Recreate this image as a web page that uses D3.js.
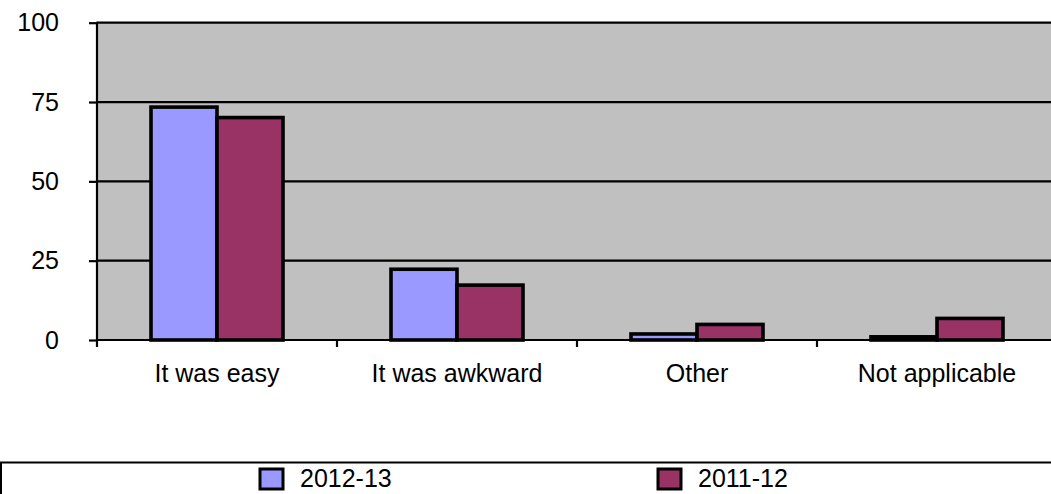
<!DOCTYPE html>
<html>
<head>
<meta charset="utf-8">
<script src="https://cdn.jsdelivr.net/npm/d3@7"></script>
<style>
  html, body { margin: 0; padding: 0; background: #fff; overflow: hidden; }
  svg { display: block; font-family: "Liberation Sans", Arial, Helvetica, sans-serif; }
</style>
</head>
<body>
<svg id="chart" width="1051" height="494"></svg>
<script>
// Survey responses, percent of respondents
const categories = ["It was easy", "It was awkward", "Other", "Not applicable"];
const seriesNames = ["2012-13", "2011-12"];
const values2012 = [73.4, 22.3, 1.9, 1.0];
const values2011 = [70.1, 17.3, 4.9, 6.8];
const yTicks = [0, 25, 50, 75, 100];

const seriesColors = ["#9999ff", "#993366"];
const seriesValues = [values2012, values2011];

const svg = d3.select("#chart");
const plot = { left: 97, right: 1057, top: 22.7, bottom: 340 };

const x = d3.scaleBand().domain(categories).range([plot.left, plot.right]);
const xInner = d3.scaleBand().domain(seriesNames).range([54, 186]);
const y = d3.scaleLinear().domain([0, 100]).range([plot.bottom, plot.top]);

// plot background
svg.append("rect")
  .attr("x", plot.left).attr("y", plot.top)
  .attr("width", plot.right - plot.left).attr("height", plot.bottom - plot.top)
  .attr("fill", "#c0c0c0");

// horizontal gridlines
svg.append("g")
  .selectAll("line")
  .data(yTicks.filter(d => d > 0))
  .join("line")
  .attr("x1", plot.left).attr("x2", plot.right)
  .attr("y1", d => y(d)).attr("y2", d => y(d))
  .attr("stroke", "#000").attr("stroke-width", 2.2);

// bars
const groups = svg.append("g")
  .selectAll("g")
  .data(categories)
  .join("g")
  .attr("transform", d => `translate(${x(d)},0)`);

groups.selectAll("rect")
  .data((c, i) => seriesNames.map((s, k) => ({ s, v: seriesValues[k][i], color: seriesColors[k] })))
  .join("rect")
  .attr("x", d => xInner(d.s))
  .attr("width", xInner.bandwidth())
  .attr("y", d => y(d.v))
  .attr("height", d => y(0) - y(d.v))
  .attr("fill", d => d.color)
  .attr("stroke", "#000")
  .attr("stroke-width", 3.6);

// y axis
const yAxis = d3.axisLeft(y).tickValues(yTicks).tickSize(8).tickPadding(30);
const yg = svg.append("g").attr("transform", `translate(${plot.left},0)`).call(yAxis);
yg.select(".domain").remove();
yg.selectAll(".tick line").attr("stroke", "#000").attr("stroke-width", 2.2);
yg.selectAll(".tick text")
  .attr("font-size", 25).attr("fill", "#000")
  .attr("font-family", "'Liberation Sans', Arial, Helvetica, sans-serif");
svg.append("line")
  .attr("x1", plot.left).attr("x2", plot.left)
  .attr("y1", plot.top - 1).attr("y2", plot.bottom + 7)
  .attr("stroke", "#000").attr("stroke-width", 2.2);

// x axis
svg.append("line")
  .attr("x1", plot.left).attr("x2", plot.right)
  .attr("y1", plot.bottom).attr("y2", plot.bottom)
  .attr("stroke", "#000").attr("stroke-width", 2.2);
svg.append("g")
  .selectAll("line")
  .data(categories.slice(1))
  .join("line")
  .attr("x1", d => x(d)).attr("x2", d => x(d))
  .attr("y1", plot.bottom).attr("y2", plot.bottom + 7)
  .attr("stroke", "#000").attr("stroke-width", 2.2);
svg.append("g")
  .selectAll("text")
  .data(categories)
  .join("text")
  .attr("x", d => x(d) + x.bandwidth() / 2)
  .attr("y", 382)
  .attr("text-anchor", "middle")
  .attr("font-size", 25)
  .attr("fill", "#000")
  .text(d => d);

// legend
svg.append("rect")
  .attr("x", 1).attr("y", 462.5)
  .attr("width", 1060).attr("height", 60)
  .attr("fill", "#fff").attr("stroke", "#000").attr("stroke-width", 2);

const legendX = [260, 658];
const legend = svg.append("g")
  .selectAll("g")
  .data(seriesNames)
  .join("g")
  .attr("transform", (d, i) => `translate(${legendX[i]},0)`);
legend.append("rect")
  .attr("x", 0).attr("y", 469)
  .attr("width", 23).attr("height", 20)
  .attr("fill", (d, i) => seriesColors[i])
  .attr("stroke", "#000").attr("stroke-width", 3);
legend.append("text")
  .attr("x", 40).attr("y", 487)
  .attr("font-size", 25)
  .attr("fill", "#000")
  .text(d => d);
</script>
</body>
</html>
